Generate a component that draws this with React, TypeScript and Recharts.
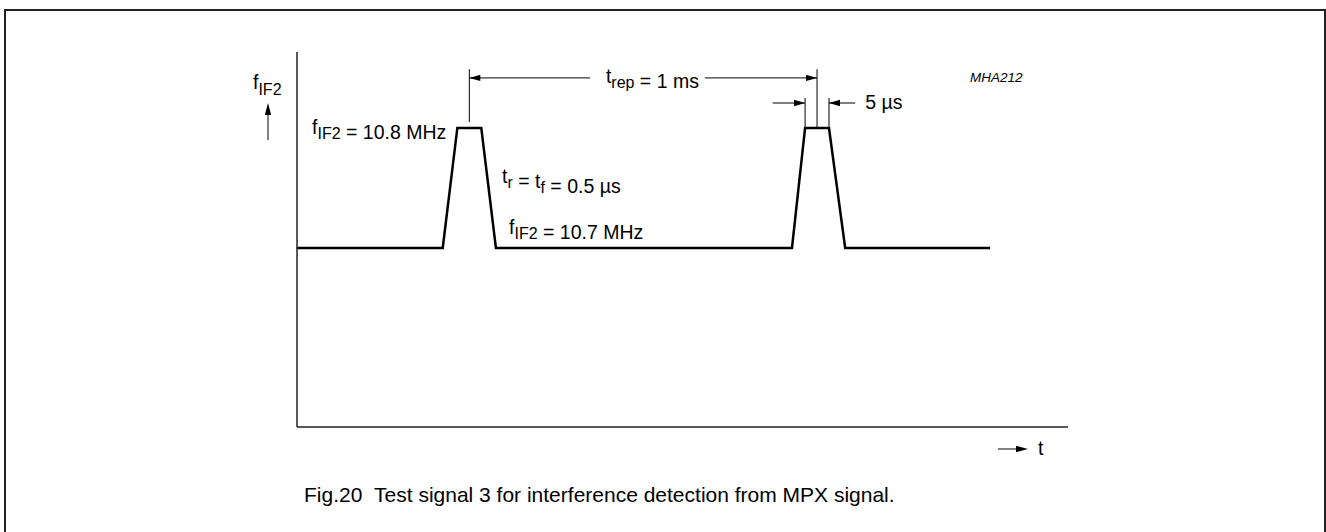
import { Label, Line, LineChart, ReferenceDot, ReferenceLine, XAxis, YAxis } from 'recharts'

// schematic time (arbitrary units, axis runs 0..100) and IF frequency (MHz)
const signalT = [0, 18.9, 20.8, 23.9, 25.8, 64.2, 65.9, 69.0, 71.1, 89.9]
const signalF = [10.7, 10.7, 10.8, 10.8, 10.7, 10.7, 10.8, 10.8, 10.7, 10.7]

const fBase = 10.7
const fPulse = 10.8
const pulse1Centre = 22.35
const pulse2Start = 65.9
const pulse2End = 69.0
const pulse2Centre = 67.45

const data = signalT.map((t, i) => ({ t, f: signalF[i] }))

const FONT = '"Liberation Sans", Arial, Helvetica, sans-serif'
const INK = '#000'
const TXT = 19.5
const SUB = 16

type Seg = { x1?: number; y1?: number; x2?: number; y2?: number }

// line with optional filled arrowheads at either end
function arrow(heads: { start?: boolean; end?: boolean }) {
  return (p: Seg) => {
    const x1 = Number(p.x1), y1 = Number(p.y1), x2 = Number(p.x2), y2 = Number(p.y2)
    const dx = x2 - x1
    const dy = y2 - y1
    const len = Math.hypot(dx, dy) || 1
    const ux = dx / len
    const uy = dy / len
    const L = 11
    const W = 3.2
    const head = (tx: number, ty: number, dirx: number, diry: number) => {
      const bx = tx - dirx * L
      const by = ty - diry * L
      return `${tx},${ty} ${bx - diry * W},${by + dirx * W} ${bx + diry * W},${by - dirx * W}`
    }
    return (
      <g>
        <line x1={x1} y1={y1} x2={x2} y2={y2} stroke={INK} strokeWidth={1} />
        {heads.start && <polygon points={head(x1, y1, -ux, -uy)} fill={INK} />}
        {heads.end && <polygon points={head(x2, y2, ux, uy)} fill={INK} />}
      </g>
    )
  }
}

function textAt(content: React.ReactNode, opts: { anchor?: 'start' | 'middle' | 'end'; size?: number; italic?: boolean } = {}) {
  return (p: { cx?: number; cy?: number }) => (
    <text
      x={p.cx}
      y={p.cy}
      textAnchor={opts.anchor ?? 'start'}
      fontFamily={FONT}
      fontSize={opts.size ?? TXT}
      fontStyle={opts.italic ? 'italic' : 'normal'}
      fill={INK}
    >
      {content}
    </text>
  )
}

const sub = (s: string) => (
  <>
    <tspan fontSize={SUB} dy={5}>{s}</tspan>
    <tspan dy={-5}>{''}</tspan>
  </>
)

type VB = { x: number; y: number; width: number; height: number }

function YLabel(props: { viewBox?: VB }) {
  const vb = props.viewBox ?? { x: 0, y: 0, width: 0, height: 0 }
  const x = vb.x + vb.width - 44
  const y = vb.y
  return (
    <g>
      <text x={x} y={y + 37} fontFamily={FONT} fontSize={TXT} fill={INK}>
        f<tspan fontSize={SUB} dy={6}>IF2</tspan>
      </text>
      <line x1={x + 15} y1={y + 88} x2={x + 15} y2={y + 60} stroke={INK} strokeWidth={1} />
      <polygon points={`${x + 15},${y + 51} ${x + 11.8},${y + 63} ${x + 18.2},${y + 63}`} fill={INK} />
    </g>
  )
}

function XLabel(props: { viewBox?: VB }) {
  const vb = props.viewBox ?? { x: 0, y: 0, width: 0, height: 0 }
  const x = vb.x + vb.width - 70
  const y = vb.y + 22
  return (
    <g>
      <line x1={x} y1={y} x2={x + 20} y2={y} stroke={INK} strokeWidth={1} />
      <polygon points={`${x + 30},${y} ${x + 18},${y - 3.2} ${x + 18},${y + 3.2}`} fill={INK} />
      <text x={x + 40} y={y + 6} fontFamily={FONT} fontSize={TXT} fill={INK}>t</text>
    </g>
  )
}

export default function App() {
  return (
    <div style={{ position: 'absolute', left: 0, top: 0, width: 1326, height: 532, overflow: 'hidden', background: '#fff' }}>
      <div
        style={{
          position: 'absolute',
          left: 4,
          top: 9,
          width: 1318,
          height: 560,
          border: '2px solid #222',
        }}
      />
      <div style={{ position: 'absolute', left: 0, top: 0 }}>
        <LineChart width={1326} height={532} data={data} margin={{ top: 52, right: 258, bottom: 65, left: 247 }}>
          <XAxis
            dataKey="t"
            type="number"
            domain={[0, 100]}
            tick={false}
            tickLine={false}
            height={40}
            axisLine={{ stroke: '#222', strokeWidth: 1.5 }}
          >
            <Label content={<XLabel />} />
          </XAxis>
          <YAxis
            type="number"
            domain={[10.5508, 10.8633]}
            tick={false}
            tickLine={false}
            width={50}
            axisLine={{ stroke: '#222', strokeWidth: 1.5 }}
          >
            <Label content={<YLabel />} />
          </YAxis>
          <Line
            dataKey="f"
            type="linear"
            stroke={INK}
            strokeWidth={2.5}
            strokeLinejoin="miter"
            dot={false}
            activeDot={false}
            isAnimationActive={false}
          />

          {/* t_rep markers */}
          <ReferenceLine segment={[{ x: pulse1Centre, y: 10.805 }, { x: pulse1Centre, y: 10.849 }]} shape={arrow({})} />
          <ReferenceLine segment={[{ x: pulse2Centre, y: fPulse }, { x: pulse2Centre, y: 10.849 }]} shape={arrow({})} />
          <ReferenceLine segment={[{ x: pulse1Centre, y: 10.8417 }, { x: 38.0, y: 10.8417 }]} shape={arrow({ start: true })} />
          <ReferenceLine segment={[{ x: 52.9, y: 10.8417 }, { x: pulse2Centre, y: 10.8417 }]} shape={arrow({ end: true })} />

          {/* pulse width markers */}
          <ReferenceLine segment={[{ x: pulse2Start, y: fPulse }, { x: pulse2Start, y: 10.825 }]} shape={arrow({})} />
          <ReferenceLine segment={[{ x: pulse2End, y: fPulse }, { x: pulse2End, y: 10.825 }]} shape={arrow({})} />
          <ReferenceLine segment={[{ x: 61.7, y: 10.8208 }, { x: pulse2Start, y: 10.8208 }]} shape={arrow({ end: true })} />
          <ReferenceLine segment={[{ x: 72.4, y: 10.8208 }, { x: pulse2End, y: 10.8208 }]} shape={arrow({ end: true })} />

          {/* labels */}
          <ReferenceDot x={1.95} y={10.795} r={0} shape={textAt(<>f{sub('IF2')} = 10.8 MHz</>)} />
          <ReferenceDot x={26.6} y={10.754} r={0} shape={textAt(<>t{sub('r')} = t{sub('f')} = 0.5 µs</>)} />
          <ReferenceDot x={27.5} y={fBase + 0.012} r={0} shape={textAt(<>f{sub('IF2')} = 10.7 MHz</>)} />
          <ReferenceDot x={46.1} y={10.8375} r={0} shape={textAt(<>t{sub('rep')} = 1 ms</>, { anchor: 'middle' })} />
          <ReferenceDot x={73.7} y={10.8158} r={0} shape={textAt(<>5 µs</>)} />
          <ReferenceDot x={87.3} y={10.8383} r={0} shape={textAt(<>MHA212</>, { size: 13.5, italic: true })} />
        </LineChart>
      </div>
      <div
        style={{
          position: 'absolute',
          left: 304,
          top: 483,
          fontFamily: FONT,
          fontSize: 21,
          color: INK,
          whiteSpace: 'nowrap',
        }}
      >
        Fig.20&nbsp;&nbsp;Test signal 3 for interference detection from MPX signal.
      </div>
    </div>
  )
}
